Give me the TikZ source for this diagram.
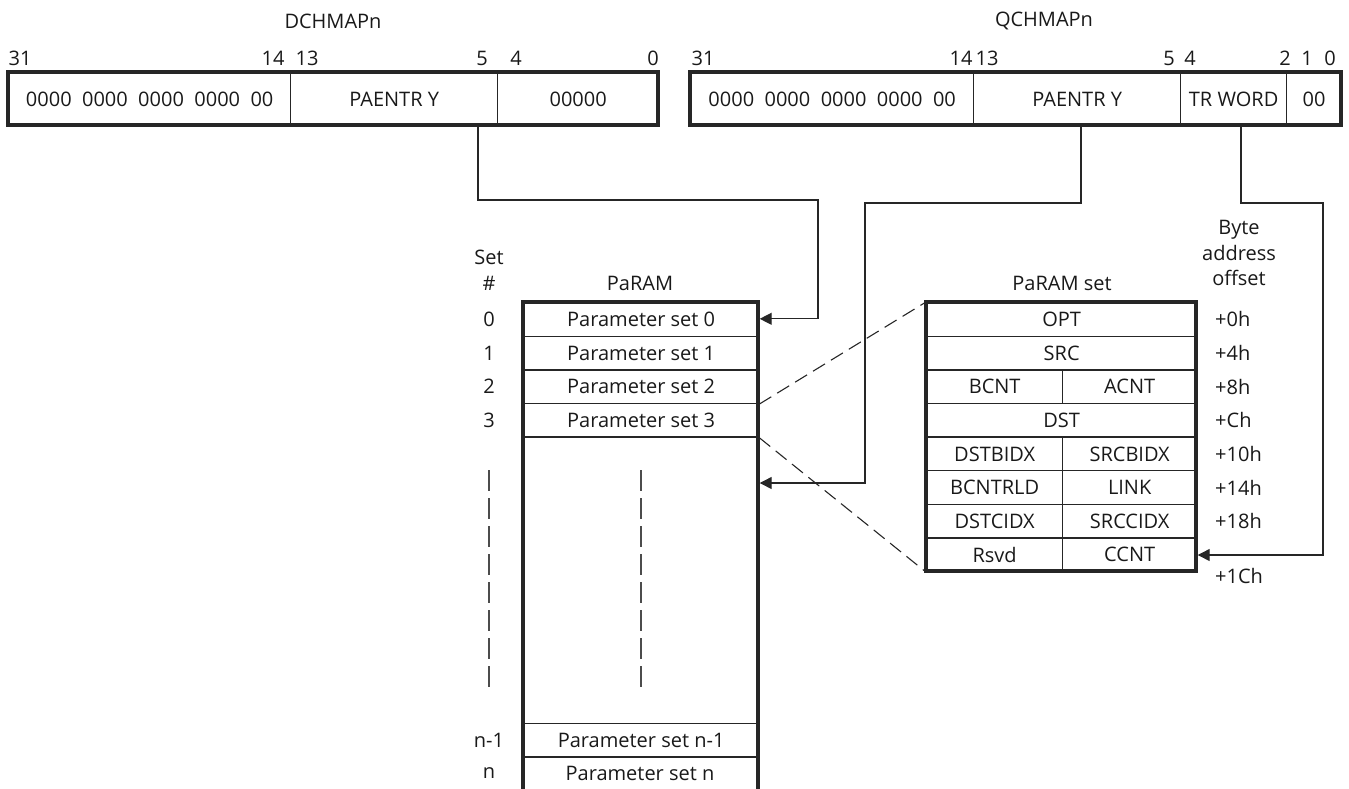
\documentclass[tikz,border=0pt]{standalone}
\usepackage{fontspec}
\setmainfont{Open Sans}
\usetikzlibrary{arrows.meta}
\begin{document}
\begin{tikzpicture}[x=1pt,y=-1pt,
  every node/.style={font=\fontsize{20}{23}\selectfont, text=black!90, inner sep=0pt},
  thinline/.style={line width=1.3pt, draw=black!85},
  boldline/.style={line width=3.4pt, draw=black!85},
  field/.style={thinline, draw, minimum height=53pt, anchor=north west},
  row/.style={thinline, draw, minimum height=33.6pt, anchor=north west},
  conn/.style={thinline, -{Triangle[length=12pt,width=12pt]}},
  zoomline/.style={line width=1.1pt, draw=black!85, dash pattern=on 14pt off 7pt},
  vdots/.style={line width=1.3pt, draw=black!70, dash pattern=on 21pt off 7pt}]
\useasboundingbox (0,0) rectangle (1349,788);

% ---------- DCHMAPn ----------
\node (dt) at (333,21) {DCHMAPn};
\node (db31) at (20,58) {31};
\node (db14) at (273,58) {14};
\node (db13) at (307,58) {13};
\node (db5) at (482,58) {5};
\node (db4) at (516,58) {4};
\node (db0) at (653,58) {0};
\node[field, minimum width=282pt] (d1) at (8,72) {0000\ \ 0000\ \ 0000\ \ 0000\ \ 00};
\node[field, minimum width=207pt] (d2) at (290,72) {PAENTR Y};
\node[field, minimum width=161pt] (d3) at (497,72) {00000};
\draw[boldline] (8,72) rectangle (658,125);

% ---------- QCHMAPn ----------
\node (qt) at (1044,21) {QCHMAPn};
\node (qb31) at (703,58) {31};
\node (qb14) at (961,58) {14};
\node (qb13) at (987,58) {13};
\node (qb5) at (1169,58) {5};
\node (qb4) at (1190,58) {4};
\node (qb2) at (1285,58) {2};
\node (qb1) at (1307,58) {1};
\node (qb0) at (1330,58) {0};
\node[field, minimum width=283pt] (q1) at (690,72) {0000\ \ 0000\ \ 0000\ \ 0000\ \ 00};
\node[field, minimum width=207pt] (q2) at (973,72) {PAENTR Y};
\node[field, minimum width=106pt] (q3) at (1180,72) {TR WORD};
\node[field, minimum width=55pt] (q4) at (1286,72) {00};
\draw[boldline] (690,72) rectangle (1341,125);

% ---------- PaRAM ----------
\coordinate (colS) at (489,0);
\coordinate (colO) at (1215,0);
\node (sethead) at (489,257) {Set};
\node (hash) at (489,283) {\#};
\node (ptitle) at (640,283) {PaRAM};
\node[row, minimum width=235pt] (p0) at (523,302.0) {Parameter set 0};
\node[row, minimum width=235pt] (p1) at (523,335.6) {Parameter set 1};
\node[row, minimum width=235pt] (p2) at (523,369.2) {Parameter set 2};
\node[row, minimum width=235pt] (p3) at (523,402.8) {Parameter set 3};
\node[row, minimum width=235pt] (pn1) at (523,723) {Parameter set n-1};
\draw[thinline] (523,757) -- (758,757);
\node (pn) at (640,773) {Parameter set n};
\node (s0) at (colS |- p0) {0};
\node (s1) at (colS |- p1) {1};
\node (s2) at (colS |- p2) {2};
\node (s3) at (colS |- p3) {3};
\node (sn1) at (colS |- pn1) {n-1};
\node (sn) at (489,773) {n};
\draw[boldline] (523,790) -- (523,302) -- (758,302) -- (758,790);
\draw[vdots] (489,470) -- (489,690);
\draw[vdots] (641,470) -- (641,690);

% ---------- PaRAM set ----------
\node (pstitle) at (1062,283) {PaRAM set};
\node[row, minimum width=270pt] (opt) at (926,302.0) {OPT};
\node[row, minimum width=270pt] (src) at (926,335.6) {SRC};
\node[row, minimum width=136pt] (bcnt) at (926,369.2) {BCNT};
\node[row, minimum width=134pt] (acnt) at (1062,369.2) {ACNT};
\node[row, minimum width=270pt] (dst) at (926,402.8) {DST};
\node[row, minimum width=136pt] (dstbidx) at (926,436.4) {DSTBIDX};
\node[row, minimum width=134pt] (srcbidx) at (1062,436.4) {SRCBIDX};
\node[row, minimum width=136pt] (bcntrld) at (926,470.0) {BCNTRLD};
\node[row, minimum width=134pt] (link) at (1062,470.0) {LINK};
\node[row, minimum width=136pt] (dstcidx) at (926,503.6) {DSTCIDX};
\node[row, minimum width=134pt] (srccidx) at (1062,503.6) {SRCCIDX};
\node[row, minimum width=136pt] (rsvd) at (926,537.2) {Rsvd};
\node[row, minimum width=134pt] (ccnt) at (1062,537.2) {CCNT};
\draw[boldline] (926,302) rectangle (1196,571);

\node[align=center, font=\fontsize{20}{25.5}\selectfont] (bao) at (1239,253) {Byte\\address\\offset};
\node[anchor=west] (o0) at (colO |- opt) {+0h};
\node[anchor=west] (o4) at (colO |- src) {+4h};
\node[anchor=west] (o8) at (colO |- acnt) {+8h};
\node[anchor=west] (oc) at (colO |- dst) {+Ch};
\node[anchor=west] (o10) at (colO |- srcbidx) {+10h};
\node[anchor=west] (o14) at (colO |- link) {+14h};
\node[anchor=west] (o18) at (colO |- srccidx) {+18h};
\node[anchor=west] (o1c) at (1215,576) {+1Ch};

% ---------- connectors ----------
\coordinate (dsrc) at (478,125);
\coordinate (qsrc) at (1081,125);
\coordinate (tsrc) at (1241,125);
\coordinate (p0in) at (759.7,318.8);
\coordinate (midin) at (759.7,483);
\coordinate (ccntin) at (1197.7,555);
\draw[conn] (dsrc) |- (818,200) |- (p0in);
\draw[conn] (qsrc) |- (865,203) |- (midin);
\draw[conn] (tsrc) |- (1323,203) |- (ccntin);

% zoom lines
\draw[zoomline] (p2.south east) -- (opt.north west);
\draw[zoomline] (p3.south east) -- (rsvd.south west);
\end{tikzpicture}
\end{document}
